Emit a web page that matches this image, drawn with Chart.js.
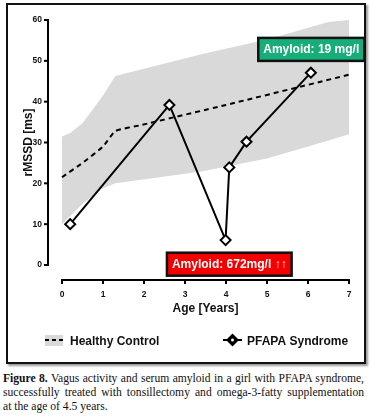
<!DOCTYPE html>
<html><head><meta charset="utf-8">
<script src="https://cdn.jsdelivr.net/npm/chart.js@4.4.1/dist/chart.umd.min.js"></script>
<style>
html,body{margin:0;padding:0;background:#fff;width:373px;height:418px;overflow:hidden;}
#frame{position:absolute;left:6px;top:3px;width:356px;height:357px;border:2px solid #111;box-shadow:2px 2px 2px #999;}
#c{position:absolute;left:0;top:0;}
#cap{position:absolute;left:3px;top:372px;width:361px;font-family:"Liberation Serif","Times New Roman",serif;font-size:11.6px;line-height:14px;color:#111;}
#cap .j{text-align:justify;text-align-last:justify;white-space:nowrap;}
</style></head><body>
<div id="frame"></div>
<canvas id="c" width="373" height="368"></canvas>
<div id="cap"><div class="j"><b>Figure 8.</b> Vagus activity and serum amyloid in a girl with PFAPA syndrome,</div><div class="j">successfully treated with tonsillectomy and omega-3-fatty supplementation</div><div>at the age of 4.5 years.</div></div>
<script>
// ---- data ----
const bandAges   = [0, 0.2, 0.5, 1.0, 1.3, 3.4, 5.0, 6.5, 7.0];
const bandUpper  = [31.5, 32.3, 34.7, 41.5, 46.3, 51.6, 55.2, 59.5, 60];
const bandLower  = [10, 12, 15, 18.8, 20, 22.9, 26.1, 30.5, 32];
const controlAges = [0, 0.5, 1.0, 1.3, 1.9, 4.0, 7.0];
const controlMean = [21.5, 25, 29, 32.8, 34.2, 39.2, 46.6];
const pfapaAges  = [0.2, 2.62, 3.99, 4.08, 4.5, 6.07];
const pfapaRmssd = [10, 39.2, 6.1, 23.9, 30.2, 47.1];
const xTicks = [0,1,2,3,4,5,6,7];
const yTicks = [0,10,20,30,40,50,60];
const notes = [
  {x:6.08, y:52.8, text:'Amyloid: 19 mg/l', arrows:'', fill:'#17ad79'},
  {x:4.08, y:0.2, text:'Amyloid: 672mg/l ', arrows:'↑↑', fill:'#f50000'}
];

const pts = (xs, ys) => xs.map((x,i)=>({x:x, y:ys[i]}));
const F = '"Liberation Sans", Arial, sans-serif';

const decor = {
  id:'decor',
  afterDraw(chart){
    const ctx = chart.ctx, xs = chart.scales.x, ys = chart.scales.y;
    ctx.save();
    ctx.strokeStyle = '#000'; ctx.lineWidth = 2; ctx.lineCap = 'butt';
    const ax = 48;
    ctx.beginPath(); ctx.moveTo(ax, ys.getPixelForValue(60)-1); ctx.lineTo(ax, ys.getPixelForValue(0)+1); ctx.stroke();
    yTicks.forEach(v=>{const p=ys.getPixelForValue(v); ctx.beginPath(); ctx.moveTo(ax-4,p); ctx.lineTo(ax,p); ctx.stroke();});
    const ay = 280;
    ctx.beginPath(); ctx.moveTo(xs.getPixelForValue(0)-1, ay); ctx.lineTo(xs.getPixelForValue(7)+1, ay); ctx.stroke();
    xTicks.forEach(v=>{const p=xs.getPixelForValue(v); ctx.beginPath(); ctx.moveTo(p,ay); ctx.lineTo(p,ay+4); ctx.stroke();});
    ctx.font = 'bold 12px '+F; ctx.textBaseline='middle';
    notes.forEach(n=>{
      const cx = xs.getPixelForValue(n.x), cy = ys.getPixelForValue(n.y);
      const w1 = ctx.measureText(n.text).width, w2 = ctx.measureText(n.arrows).width;
      const w = w1 + w2 + 10, h = 23;
      ctx.fillStyle = n.fill; ctx.fillRect(cx-w/2, cy-h/2, w, h);
      ctx.lineWidth = 2.5; ctx.strokeStyle = '#111'; ctx.strokeRect(cx-w/2, cy-h/2, w, h);
      ctx.fillStyle = '#fff'; ctx.textAlign='left';
      ctx.fillText(n.text, cx-w/2+5, cy+0.5);
      if (n.arrows){ ctx.fillStyle = '#ffc4c4'; ctx.fillText(n.arrows, cx-w/2+5+w1, cy+0.5); }
    });
    const ly = 340;
    ctx.fillStyle = '#d9d9d9'; ctx.fillRect(45, 335, 18, 11);
    ctx.strokeStyle = '#000'; ctx.lineWidth = 2; ctx.setLineDash([4,3]);
    ctx.beginPath(); ctx.moveTo(45, ly); ctx.lineTo(63, ly); ctx.stroke();
    ctx.setLineDash([]);
    ctx.beginPath(); ctx.moveTo(223, ly); ctx.lineTo(242, ly); ctx.stroke();
    ctx.fillStyle = '#000';
    ctx.beginPath(); ctx.moveTo(232.5, ly-6.5); ctx.lineTo(239, ly); ctx.lineTo(232.5, ly+6.5); ctx.lineTo(226, ly); ctx.closePath(); ctx.fill();
    ctx.fillStyle = '#fff'; ctx.beginPath(); ctx.arc(232.5, ly, 1.5, 0, Math.PI*2); ctx.fill();
    ctx.fillStyle = '#111'; ctx.font = 'bold 12px '+F; ctx.textAlign='left'; ctx.textBaseline='middle';
    ctx.fillText('Healthy Control', 70, ly+1.5);
    ctx.fillText('PFAPA Syndrome', 247, ly+1.5);
    ctx.restore();
  }
};

new Chart(document.getElementById('c'), {
  type:'line',
  data:{datasets:[
    {label:'lower', data:pts(bandAges,bandLower), borderWidth:0, pointRadius:0, fill:false, borderColor:'rgba(0,0,0,0)', order:3},
    {label:'upper', data:pts(bandAges,bandUpper), borderWidth:0, pointRadius:0, fill:0, backgroundColor:'#d9d9d9', borderColor:'rgba(0,0,0,0)', order:3},
    {label:'Healthy Control', data:pts(controlAges,controlMean), borderColor:'#000', borderWidth:2, borderDash:[5,4], pointRadius:0, fill:false, tension:0.15, order:2},
    {label:'PFAPA Syndrome', data:pts(pfapaAges,pfapaRmssd), borderColor:'#000', borderWidth:2, pointStyle:'rectRot', pointRadius:5, pointBorderWidth:2, pointBackgroundColor:'#fff', pointBorderColor:'#000', fill:false, order:1}
  ]},
  options:{
    responsive:false, animation:false, clip:false,
    layout:{padding:{left:0, top:20, right:24, bottom:48}},
    plugins:{legend:{display:false}, tooltip:{enabled:false}},
    scales:{
      x:{type:'linear', min:0, max:7, grid:{display:false, drawTicks:false}, border:{display:false},
        afterBuildTicks:s=>{s.ticks = xTicks.map(v=>({value:v}));},
        afterFit:s=>{s.height=55; s.paddingLeft=0; s.paddingRight=0;},
        ticks:{padding:25, color:'#111', font:{family:F, weight:'bold', size:8.5}},
        title:{display:true, text:'Age [Years]', color:'#111', font:{family:F, weight:'bold', size:12}, padding:{top:4,bottom:4}}},
      y:{min:0, max:60, grid:{display:false, drawTicks:false}, border:{display:false},
        afterBuildTicks:s=>{s.ticks = yTicks.map(v=>({value:v}));},
        afterFit:s=>{s.width=62; s.paddingTop=0; s.paddingBottom=0;},
        ticks:{padding:20, color:'#111', font:{family:F, weight:'bold', size:8.5}},
        title:{display:true, text:'rMSSD [ms]', color:'#111', font:{family:F, weight:'bold', size:12}, padding:{top:21,bottom:0}}}
    }
  },
  plugins:[decor]
});
</script>
</body></html>
